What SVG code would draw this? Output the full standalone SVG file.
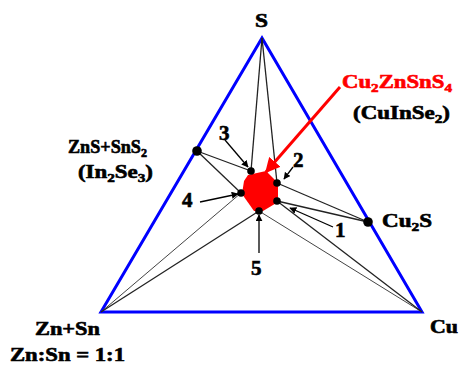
<svg xmlns="http://www.w3.org/2000/svg" width="460" height="365" viewBox="0 0 460 365">
<style>
text{font-family:"Liberation Serif","DejaVu Serif",serif;font-weight:bold;font-size:18px;fill:#000;stroke:#000;stroke-width:0.6}
.num{font-size:21px}
.red{fill:#ff0000;stroke:#ff0000}
.sub{font-size:12px}
.tie{stroke:#222;stroke-width:1.3;fill:none}
.thin{stroke:#444;stroke-width:1;fill:none}
.ptr{stroke:#000;stroke-width:1.3;fill:none;marker-end:url(#ah)}
.dot{fill:#000}
</style>
<defs>
<marker id="ah" viewBox="0 0 10 10" refX="9" refY="5" markerWidth="7" markerHeight="7" markerUnits="userSpaceOnUse" orient="auto">
<path d="M0,0 L10,5 L0,10 z" fill="#000"/>
</marker>
<marker id="rah" viewBox="0 0 10 10" refX="9" refY="5" markerWidth="15" markerHeight="15" markerUnits="userSpaceOnUse" orient="auto">
<path d="M0,0 L10,5 L0,10 z" fill="#ff0000"/>
</marker>
</defs>
<g id="triangle">
<polygon points="262,38 101,312 422,312" fill="none" stroke="#0000ff" stroke-width="3" stroke-linejoin="miter"/>
</g>
<g id="connectors">
<line class="tie" x1="262" y1="38" x2="251" y2="171"/>
<line class="tie" x1="262" y1="38" x2="277" y2="183"/>
<line class="tie" x1="197" y1="151" x2="251" y2="171"/>
<line class="tie" x1="197" y1="151" x2="241" y2="193"/>
<line class="thin" x1="101" y1="312" x2="241" y2="193"/>
<line class="tie" x1="101" y1="312" x2="259" y2="211"/>
<line class="thin" x1="422" y1="312" x2="259" y2="211"/>
<line class="tie" x1="422" y1="312" x2="277" y2="201"/>
<line class="tie" x1="368" y1="222" x2="277" y2="183"/>
<line class="tie" x1="368" y1="222" x2="277" y2="201"/>
<line class="ptr" x1="225" y1="140" x2="248" y2="167"/>
<line class="ptr" x1="293" y1="167" x2="284" y2="179"/>
<line class="ptr" x1="200" y1="202" x2="238" y2="194"/>
<line class="ptr" x1="259" y1="253" x2="259" y2="215"/>
<line class="ptr" x1="333" y1="227" x2="290" y2="208"/>
<line x1="340" y1="87" x2="266" y2="172" stroke="#ff0000" stroke-width="3" marker-end="url(#rah)"/>
</g>
<g id="phase">
<polygon points="248,175 266,171 278,183 278,202 263,211 254,211 242,194 244,181" fill="#ff0000"/>
<circle class="dot" cx="251" cy="171" r="3.8"/>
<circle class="dot" cx="277" cy="183" r="3.8"/>
<circle class="dot" cx="277" cy="201" r="3.8"/>
<circle class="dot" cx="259" cy="211" r="3.8"/>
<circle class="dot" cx="241" cy="193" r="3.8"/>
<text class="red" x="342" y="88" textLength="110" lengthAdjust="spacingAndGlyphs">Cu<tspan class="sub" dy="4">2</tspan><tspan dy="-4">ZnSnS</tspan><tspan class="sub" dy="4">4</tspan></text>
<text x="353" y="119" textLength="97" lengthAdjust="spacingAndGlyphs">(CuInSe<tspan class="sub" dy="4">2</tspan><tspan dy="-4">)</tspan></text>
</g>
<g id="node-S">
<text x="255" y="27" textLength="13" lengthAdjust="spacingAndGlyphs">S</text>
</g>
<g id="node-ZnS-SnS2">
<circle class="dot" cx="197" cy="151" r="4.8"/>
<text x="68" y="153" textLength="79" lengthAdjust="spacingAndGlyphs">ZnS+SnS<tspan class="sub" dy="4">2</tspan></text>
<text x="78" y="178" textLength="75" lengthAdjust="spacingAndGlyphs">(In<tspan class="sub" dy="4">2</tspan><tspan dy="-4">Se</tspan><tspan class="sub" dy="4">3</tspan><tspan dy="-4">)</tspan></text>
</g>
<g id="node-Cu2S">
<circle class="dot" cx="368" cy="222" r="4.8"/>
<text x="382" y="227" textLength="50" lengthAdjust="spacingAndGlyphs">Cu<tspan class="sub" dy="4">2</tspan><tspan dy="-4">S</tspan></text>
</g>
<g id="node-ZnSn">
<text x="35" y="335" textLength="65" lengthAdjust="spacingAndGlyphs">Zn+Sn</text>
<text x="10" y="361" textLength="115" lengthAdjust="spacingAndGlyphs">Zn:Sn = 1:1</text>
</g>
<g id="node-Cu">
<text x="430" y="333" textLength="28" lengthAdjust="spacingAndGlyphs">Cu</text>
</g>
<g id="labels">
<text class="num" x="219" y="140">3</text>
<text class="num" x="293" y="167">2</text>
<text class="num" x="182" y="207">4</text>
<text class="num" x="251" y="275">5</text>
<text class="num" x="335" y="237">1</text>
</g>
</svg>
